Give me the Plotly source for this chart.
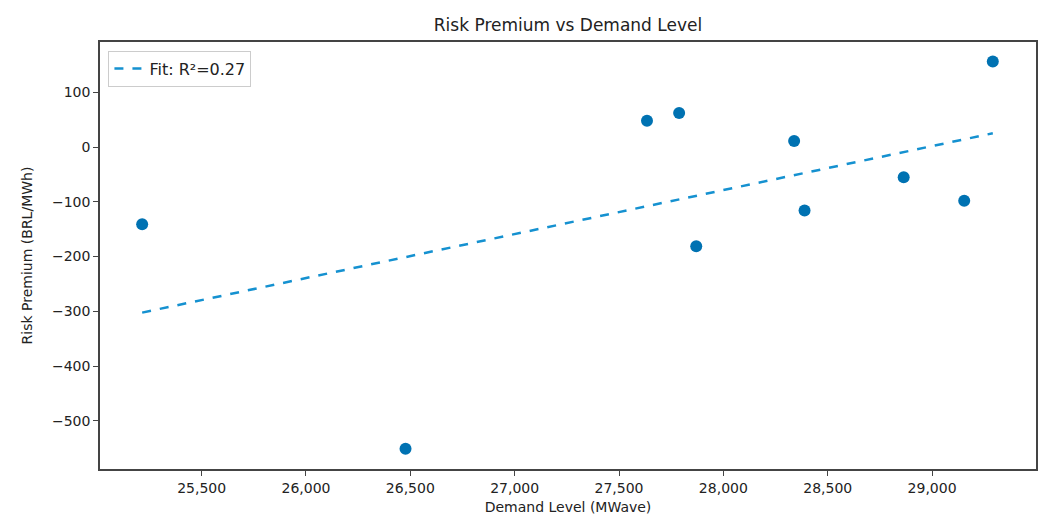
import numpy as np
import plotly.graph_objects as go

demand = [25215, 26477, 27634, 27788, 27870, 28339, 28389, 28864, 29154, 29291]
premium = [-141, -551, 48, 62, -181, 11, -116, -55, -98, 156]

x = np.array(demand, dtype=float)
y = np.array(premium, dtype=float)
slope, intercept = np.polyfit(x, y, 1)
r2 = np.corrcoef(x, y)[0, 1] ** 2
xf = np.array([x.min(), x.max()])
yf = slope * xf + intercept

font = "DejaVu Sans, Liberation Sans, sans-serif"

fig = go.Figure()
fig.add_trace(go.Scatter(
    x=demand, y=premium, mode="markers",
    marker=dict(color="#0072B2", size=12),
    showlegend=False, name="Data"))
fig.add_trace(go.Scatter(
    x=xf, y=yf, mode="lines",
    line=dict(color="#1591D0", width=2.5, dash="dash"),
    name=f"Fit: R\u00b2={r2:.2f}"))

W, H = 1043, 520
ml, mr, mt, mb = 100, 5, 42, 51
fig.update_layout(
    width=W, height=H,
    margin=dict(l=ml, r=mr, t=mt, b=mb),
    paper_bgcolor="white", plot_bgcolor="white",
    font=dict(family=font, size=14, color="#222"),
    title=dict(text="Risk Premium vs Demand Level", x=0.5, xref="paper",
               y=1 - 25 / H, yanchor="middle", font=dict(size=17, color="#222")),
    legend=dict(x=0.009, y=0.98, xanchor="left", yanchor="top",
                bordercolor="#cccccc", borderwidth=1, bgcolor="rgba(255,255,255,0.8)",
                font=dict(size=16, color="#222")),
    xaxis=dict(range=[25013, 29498], tickvals=[25500, 26000, 26500, 27000, 27500, 28000, 28500, 29000],
               tickformat=",", showgrid=False, zeroline=False,
               showline=True, linecolor="#444", linewidth=1.5, mirror=True,
               ticks="outside", ticklen=5, tickcolor="#444",
               title=dict(text="Demand Level (MWave)", font=dict(size=14), standoff=8),
               tickfont=dict(size=14)),
    yaxis=dict(range=[-587.8, 191.7], tickvals=[100, 0, -100, -200, -300, -400, -500],
               showgrid=False, zeroline=False,
               showline=True, linecolor="#444", linewidth=1.5, mirror=True,
               ticks="outside", ticklen=5, tickcolor="#444",
               title=dict(text="Risk Premium (BRL/MWh)", font=dict(size=14), standoff=16),
               tickfont=dict(size=14)),
)
fig.write_html("out.html")
